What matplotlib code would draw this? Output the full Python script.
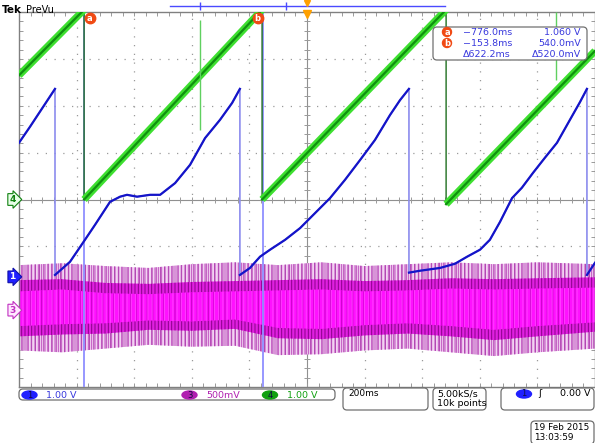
import numpy as np
import matplotlib
matplotlib.use("Agg")
import matplotlib.pyplot as plt
from matplotlib.patches import FancyBboxPatch, Ellipse, Circle
import matplotlib.transforms as mtrans

# scope settings
time_per_div = 200.0          # ms/div
ch1_scale, ch1_pos = 1.00, -1.65   # V/div, divisions
ch3_scale, ch3_pos = 0.50, -2.36
ch4_scale, ch4_pos = 1.00, 0.00
cursor_a, cursor_b = -776.0, -153.8  # ms

# channel 1 (blue) - time ms, volts; repeated time = drop
ch1_t = [-1000, -962, -875, -875, -823, -771, -736, -684, -649, -625, -590, -545, -510,
         -458, -406, -354, -302, -260, -233, -233, -198, -163, -128, -76, -24, 28, 80,
         132, 184, 236, 288, 323, 354, 354, 392, 462, 514, 556, 601, 635, 670, 712,
         746, 785, 826, 868, 913, 948, 972, 972, 1000]
ch1_v = [2.86, 3.20, 4.01, 0.04, 0.32, 0.79, 1.11, 1.60, 1.71, 1.75, 1.71, 1.75, 1.75,
         2.00, 2.39, 2.96, 3.35, 3.71, 4.01, 0.04, 0.19, 0.43, 0.58, 0.79, 1.04, 1.36, 1.68,
         2.07, 2.49, 2.92, 3.45, 3.77, 4.01, 0.09, 0.13, 0.19, 0.28, 0.43, 0.58, 0.79, 1.17, 1.68,
         1.90, 2.22, 2.54, 2.86, 3.35, 3.73, 4.01, 0.04, 0.30]

# channel 4 (green) sawtooth
ch4_t = [-1000, -774, -774, -156, -156, 483, 483, 1000]
ch4_v = [2.65, 4.05, 0.00, 4.05, 0.00, 4.05, -0.10, 3.17]
ch4_glitch_t = [-372, 865]
ch4_glitch_lo = [1.48, 2.55]
ch4_glitch_hi = [3.83, 4.0]

# channel 3 (magenta) noise envelope, volts
ch3_t = [-1000, -850, -700, -550, -400, -250, -100, 50, 200, 350, 500, 650, 800, 1000]
ch3_outer_hi = [0.48, 0.50, 0.47, 0.45, 0.49, 0.51, 0.48, 0.51, 0.47, 0.49, 0.51, 0.49, 0.51, 0.49]
ch3_outer_lo = [-0.43, -0.45, -0.41, -0.37, -0.39, -0.38, -0.48, -0.47, -0.43, -0.41, -0.45, -0.49, -0.45, -0.41]
ch3_dense_hi = [0.32, 0.33, 0.29, 0.28, 0.30, 0.31, 0.32, 0.33, 0.31, 0.32, 0.34, 0.33, 0.34, 0.35]
ch3_dense_lo = [-0.28, -0.26, -0.25, -0.21, -0.22, -0.20, -0.30, -0.31, -0.27, -0.25, -0.28, -0.32, -0.28, -0.23]
ch3_core_hi = [0.20, 0.22, 0.18, 0.17, 0.19, 0.20, 0.21, 0.22, 0.20, 0.21, 0.23, 0.22, 0.23, 0.24]
ch3_core_lo = [-0.17, -0.15, -0.14, -0.11, -0.12, -0.10, -0.19, -0.20, -0.16, -0.14, -0.17, -0.21, -0.17, -0.13]

W, H = 595, 443
plt.rcParams['hatch.linewidth'] = 0.7
fig = plt.figure(figsize=(W / 100, H / 100), dpi=100)
ax = fig.add_axes([19 / W, 1 - 387 / H, 576 / W, 375 / H])
ax.set_xlim(-5 * time_per_div, 5 * time_per_div)
ax.set_ylim(-4, 4)

gridc = '#9a9a9a'
for s in ax.spines.values():
    s.set_color('#808080')
    s.set_linewidth(1)
ax.set_xticks(np.arange(-1000, 1001, 40))
ax.set_yticks(np.arange(-4, 4.01, 0.2))
ax.tick_params(direction='in', length=3, width=0.7, color=gridc, top=True, right=True,
               labelbottom=False, labelleft=False)
for xg in np.arange(-800, 801, 200):
    if xg != 0:
        ax.axvline(xg, color=gridc, lw=0.9, ls=(0, (1, 6)), zorder=0)
for yg in range(-3, 4):
    if yg != 0:
        ax.axhline(yg, color=gridc, lw=0.9, ls=(0, (1, 6)), zorder=0)
ax.axhline(0, color='#909090', lw=0.8, zorder=0)
ax.axvline(0, color='#909090', lw=0.8, zorder=0)
xt = np.arange(-1000, 1001, 40)
yt = np.arange(-4, 4.01, 0.2)
ax.plot(xt, np.zeros_like(xt), ls='none', marker='|', ms=5, mew=0.7, color=gridc, zorder=0)
ax.plot(np.zeros_like(yt), yt, ls='none', marker='_', ms=5, mew=0.7, color=gridc, zorder=0)

# channel 3 noise band
t3 = np.array(ch3_t)
def d3(v):
    return np.array(v) / ch3_scale + ch3_pos
ax.fill_between(t3, d3(ch3_outer_lo), d3(ch3_outer_hi), facecolor='#f2d2f2',
                edgecolor='#c050c0', hatch='|||||', lw=0, zorder=2)
ax.fill_between(t3, d3(ch3_outer_lo), d3(ch3_outer_hi), facecolor='none',
                edgecolor='#b040b0', hatch='||||', lw=0, zorder=2)
ax.fill_between(t3, d3(ch3_dense_lo), d3(ch3_dense_hi), facecolor='#e020e0',
                edgecolor='#8a008a', hatch='|||||', lw=0, zorder=2)
ax.fill_between(t3, d3(ch3_core_lo), d3(ch3_core_hi), facecolor='#ff10ff',
                edgecolor='#c800c8', hatch='|||', lw=0, zorder=2)
ax.fill_between(t3, d3(ch3_core_lo), d3(ch3_core_hi), facecolor='none',
                edgecolor='#ff40ff', hatch='||||', lw=0, zorder=2)

# cursors
for c in (cursor_a, cursor_b):
    ax.axvline(c, color='#8f8fff', lw=1.3, zorder=3)

# channel 4 green
t4 = np.array(ch4_t, float)
y4 = np.array(ch4_v) / ch4_scale + ch4_pos
ax.plot(t4, y4, color='#1e6e1e', lw=1.0, zorder=4)
for i in range(0, len(t4), 2):
    ax.plot(t4[i:i + 2], y4[i:i + 2], color='#3ee030', lw=5.2, solid_capstyle='butt', zorder=4)
    ax.plot(t4[i:i + 2], y4[i:i + 2], color='#109010', lw=1.6, zorder=4)
ax.vlines(ch4_glitch_t, ch4_glitch_lo, ch4_glitch_hi, color='#60d060', lw=1, zorder=4)

# channel 1 blue
t1 = np.array(ch1_t, float)
y1 = np.array(ch1_v) / ch1_scale + ch1_pos
ax.plot(t1, y1, color='#8c8cee', lw=1.2, zorder=5)
cuts = [0] + [i + 1 for i in range(len(t1) - 1) if t1[i] == t1[i + 1]] + [len(t1)]
for a, b in zip(cuts[:-1], cuts[1:]):
    ax.plot(t1[a:b], y1[a:b], color='#1414c8', lw=1.6, zorder=5)

# channel markers on the left edge
bl = mtrans.blended_transform_factory(ax.transAxes, ax.transData)
mk = dict(transform=bl, ha='right', va='center', fontsize=6.5, fontweight='bold', clip_on=False)
ax.text(-0.006, ch4_pos, '4', color='#108010',
        bbox=dict(boxstyle='rarrow,pad=0.15', fc='#e8ffe8', ec='#108010', lw=0.8), **mk)
ax.text(-0.006, ch1_pos, '1', color='white',
        bbox=dict(boxstyle='rarrow,pad=0.15', fc='#2020ff', ec='#1010aa', lw=0.8), **mk)
ax.text(-0.006, ch3_pos, '3', color='#c030c0',
        bbox=dict(boxstyle='rarrow,pad=0.15', fc='#ffe8ff', ec='#c030c0', lw=0.8), **mk)

# overlay in pixel coordinates
ov = fig.add_axes([0, 0, 1, 1], zorder=10)
ov.set_xlim(0, W)
ov.set_ylim(H, 0)
ov.axis('off')
ov.patch.set_alpha(0)

ov.text(2, 10, 'Tek', fontsize=7.5, fontweight='bold', va='center', ha='left')
ov.text(26, 10, 'PreVu', fontsize=7, va='center', ha='left')
ov.plot([170, 445], [6, 6], color='#4a4aff', lw=1)
ov.vlines([200, 286], 2, 10, color='#4a4aff', lw=1)
ov.plot([307], [3], marker='v', ms=4, color='#ffa000')
ov.plot([307], [14], marker='v', ms=6, color='#ffa000')

# cursor labels a / b next to the cursor lines
tx = mtrans.blended_transform_factory(ax.transData, ov.transData)
for c, lab, off in ((cursor_a, 'a', 6), (cursor_b, 'b', -5)):
    tr = mtrans.offset_copy(tx, fig, x=off, y=0, units='dots')
    ov.plot([c], [18], marker='o', ms=7.5, color='#f04a14', mec='#f04a14', transform=tr, zorder=12)
    ov.text(c, 18, lab, color='white', fontsize=6, fontweight='bold', ha='center', va='center',
            transform=tr, zorder=13)

# cursor readout
ov.add_patch(FancyBboxPatch((433, 27), 154, 33, boxstyle='round,pad=0,rounding_size=4',
                            fc='white', ec='#707070', lw=0.9))
rc = '#3838dd'
rt = dict(fontsize=6.8, color=rc, va='center')
for yy, lab in ((32, 'a'), (43, 'b')):
    ov.add_patch(Circle((447, yy), 4.5, color='#f04a14'))
    ov.text(447, yy, lab, color='white', fontsize=6, fontweight='bold', ha='center', va='center')
ov.text(463, 32, '\u2212776.0ms', ha='left', **rt)
ov.text(581, 32, '1.060 V', ha='right', **rt)
ov.text(463, 43, '\u2212153.8ms', ha='left', **rt)
ov.text(581, 43, '540.0mV', ha='right', **rt)
ov.text(463, 54, '\u0394622.2ms', ha='left', **rt)
ov.text(581, 54, '\u0394520.0mV', ha='right', **rt)

# bottom status bar
bx = dict(boxstyle='round,pad=0,rounding_size=4', fc='white', ec='#707070', lw=0.9)
ov.add_patch(FancyBboxPatch((19, 389), 316, 11, **bx))
bt = dict(fontsize=6.8, va='center', ha='left')
for cx, col, lab, txt, tc in ((29.5, '#2020ff', '1', '1.00 V', '#3838dd'),
                             (189.5, '#b020b0', '3', '500mV', '#b020b0'),
                             (270, '#10a010', '4', '1.00 V', '#10a010')):
    ov.add_patch(Ellipse((cx, 395), 15, 8, color=col))
    ov.text(cx, 395, lab, color='#101040', fontsize=6, ha='center', va='center')
    ov.text(cx + 17, 395, txt, color=tc, **bt)

ov.add_patch(FancyBboxPatch((343, 388), 85, 22, **bx))
ov.text(348, 394, '200ms', color='black', fontsize=6.5, va='center', ha='left')
ov.add_patch(FancyBboxPatch((433, 388), 53, 22, **bx))
ov.text(437, 394, '5.00kS/s', color='black', **bt)
ov.text(437, 404, '10k points', color='black', **bt)
ov.add_patch(FancyBboxPatch((501, 388), 93, 22, **bx))
ov.add_patch(Ellipse((524, 394), 15, 8, color='#2020ff'))
ov.text(524, 394, '1', color='#101040', fontsize=6, ha='center', va='center')
ov.text(538, 394, '\u0283', color='black', **bt)
ov.text(590, 394, '0.00 V', color='black', fontsize=6.8, va='center', ha='right')
ov.add_patch(FancyBboxPatch((531, 421), 63, 23, **bx))
ov.text(534, 427, '19 Feb 2015', color='black', fontsize=6.4, va='center', ha='left')
ov.text(534, 437, '13:03:59', color='black', fontsize=6.4, va='center', ha='left')

fig.savefig('out.png', dpi=100)
